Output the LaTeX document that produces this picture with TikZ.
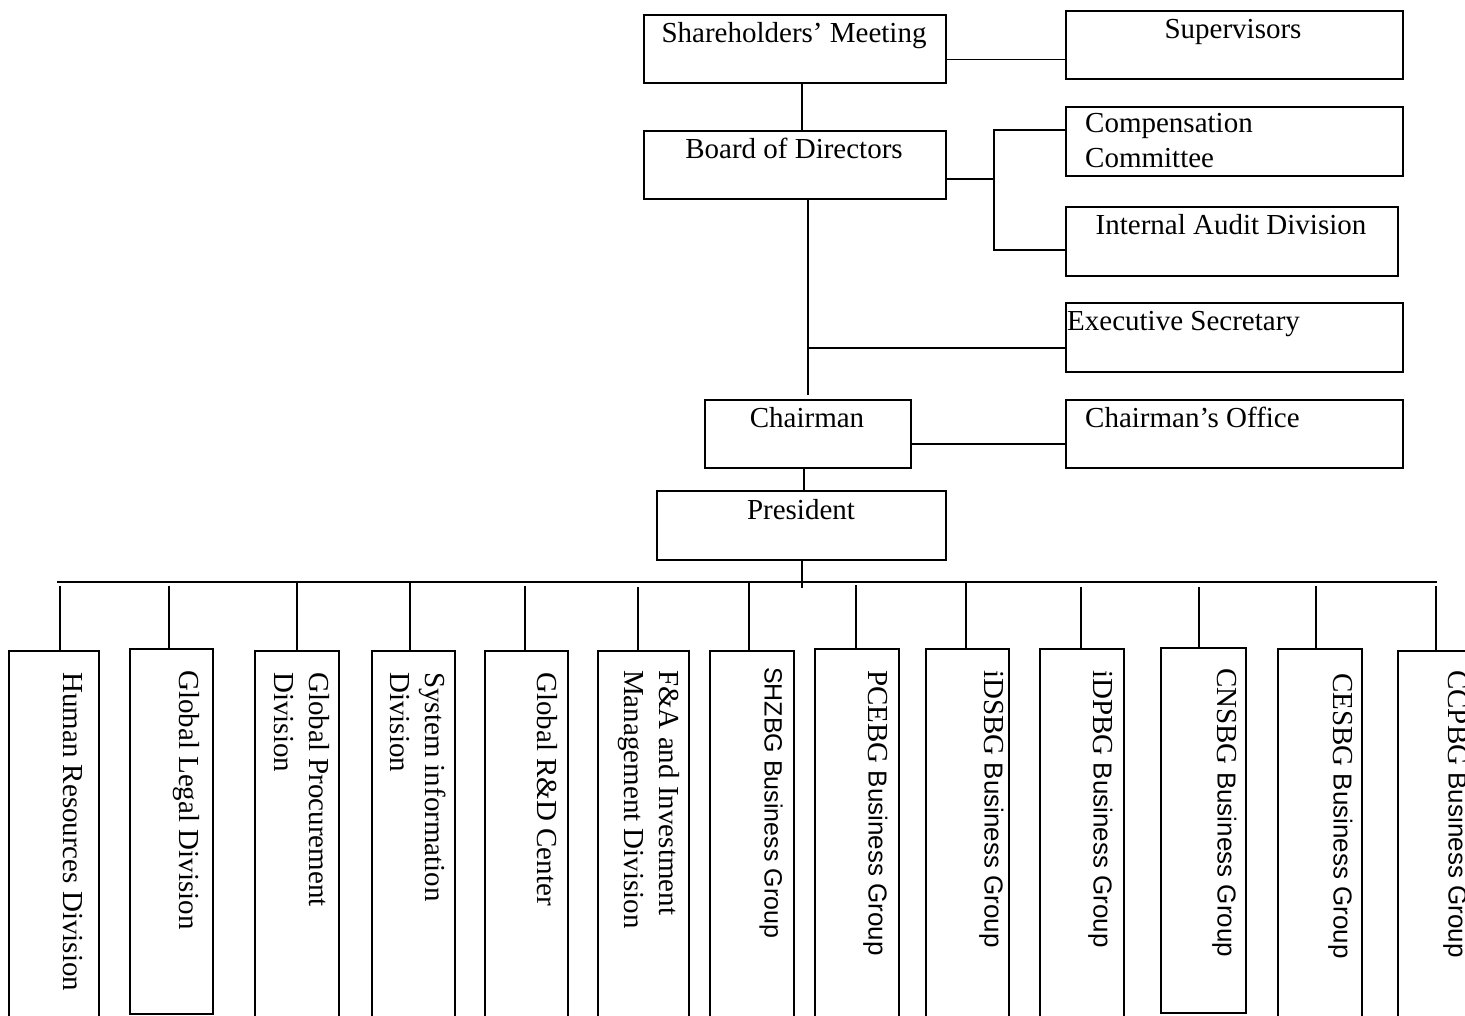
\documentclass[tikz,border=0pt]{standalone}
\usepackage{fontspec}
\setmainfont{Liberation Serif}
\newfontfamily\sansf{Liberation Sans}
\newcommand\bizgrp[1]{#1 {\sansf\fontsize{26}{35}\selectfont Business Group}}
\begin{document}
\begin{tikzpicture}[x=1pt,y=-1pt,
  box/.style={draw, line width=1.6pt, rectangle, inner sep=0pt, anchor=north west},
  con/.style={line width=1.5pt},
  txt/.style={inner sep=0pt, font=\fontsize{29}{35}\selectfont},
  vtxt/.style={txt, rotate=-90, anchor=north west, align=left}]
\clip (0,0) rectangle (1465,1016);
\fill[white] (0,0) rectangle (1465,1016);
% top boxes
\node[box, minimum width=302pt, minimum height=68pt] (sh) at (643,14) {};
\node[box, minimum width=337pt, minimum height=68pt] (sup) at (1065,10) {};
\node[box, minimum width=302pt, minimum height=68pt] (bd) at (643,130) {};
\node[box, minimum width=337pt, minimum height=69pt] (comp) at (1065,106) {};
\node[box, minimum width=332pt, minimum height=69pt] (ia) at (1065,206) {};
\node[box, minimum width=337pt, minimum height=69pt] (es) at (1065,302) {};
\node[box, minimum width=206pt, minimum height=68pt] (ch) at (704,399) {};
\node[box, minimum width=337pt, minimum height=68pt] (co) at (1065,399) {};
\node[box, minimum width=289pt, minimum height=69pt] (pr) at (656,490) {};
% top texts
\node[txt, anchor=base] (shT) at (794,43) {Shareholders’ Meeting};
\node[txt, anchor=base] (supT) at (1233,38.5) {Supervisors};
\node[txt, anchor=base] (bdT) at (794,159) {Board of Directors};
\node[txt, anchor=north west, align=left] (compT) at (1085,113.5) {Compensation\\Committee};
\node[txt, anchor=base] (iaT) at (1231,235) {Internal Audit Division};
\node[txt, anchor=base west] (esT) at (1067,331) {Executive Secretary};
\node[txt, anchor=base] (chT) at (807,427) {Chairman};
\node[txt, anchor=base west] (coT) at (1085,427) {Chairman’s Office};
\node[txt, anchor=base] (prT) at (801,519) {President};
% top connectors
\draw[con] ([yshift=-10.7pt]sh.east) -- ([yshift=-10.7pt]sh.east -| sup.west);
\draw[con] ([xshift=7pt]sh.south) -- ([xshift=7pt]bd.north);
\coordinate (j1) at (994,130);
\coordinate (j2) at (994,250);
\draw[con] ([yshift=-14pt]bd.east) -- ([yshift=-14pt]bd.east -| j1);
\draw[con] (comp.west |- j1) -- (j1) -- (j2) -- (ia.west |- j2);
\draw[con] (bd.south -| ch.north) -- ([yshift=4pt]ch.north);
\draw[con] ([yshift=-10.5pt]es.west) -- ([yshift=-10.5pt]es.west -| ch.north);
\draw[con] ([yshift=-10pt]ch.east) -- ([yshift=-10pt]co.west);
\draw[con] ([xshift=-4pt]ch.south) -- ([xshift=-4pt]ch.south |- pr.north);
\draw[con] ([xshift=0.5pt]pr.south) -- ([xshift=0.5pt,yshift=-27pt]pr.south);
\coordinate (busL) at (57,582);
\coordinate (busR) at (1437,582);
\draw[con] (busL) -- (busR);
% bottom boxes
\node[box, minimum width=90pt, minimum height=375pt] (hr) at (8,650) {};
\node[box, minimum width=83pt, minimum height=365pt] (gl) at (129,648) {};
\node[box, minimum width=84pt, minimum height=375pt] (gp) at (254,650) {};
\node[box, minimum width=83pt, minimum height=375pt] (si) at (371,650) {};
\node[box, minimum width=83pt, minimum height=375pt] (rd) at (484,650) {};
\node[box, minimum width=91pt, minimum height=375pt] (fa) at (597,650) {};
\node[box, minimum width=84pt, minimum height=375pt] (sz) at (709,650) {};
\node[box, minimum width=84pt, minimum height=375pt] (pc) at (814,648) {};
\node[box, minimum width=83pt, minimum height=375pt] (ids) at (925,648) {};
\node[box, minimum width=84pt, minimum height=375pt] (idp) at (1039,648) {};
\node[box, minimum width=85pt, minimum height=365pt] (cn) at (1160,647) {};
\node[box, minimum width=84pt, minimum height=375pt] (ce) at (1277,648) {};
\node[box, minimum width=84pt, minimum height=375pt] (cc) at (1397,650) {};
% drops
\coordinate (dhr) at (60,586);
\coordinate (dgl) at (169,586);
\coordinate (dgp) at (297,582);
\coordinate (dsi) at (410,582);
\coordinate (drd) at (525,586);
\coordinate (dfa) at (638,587);
\coordinate (dsz) at (749,582);
\coordinate (dpc) at (856,585);
\coordinate (dids) at (966,582);
\coordinate (didp) at (1081,587);
\coordinate (dcn) at (1199,587);
\coordinate (dce) at (1316,586);
\coordinate (dcc) at (1436,586);
\foreach \d/\b in {dhr/hr,dgl/gl,dgp/gp,dsi/si,drd/rd,dfa/fa,dsz/sz,dpc/pc,dids/ids,didp/idp,dcn/cn,dce/ce,dcc/cc}
  \draw[con] (\d) -- (\d |- \b.north);
% rotated texts
\node[vtxt] (hrT) at (83,672) {Human Resources Division};
\node[vtxt] (glT) at (200,670) {Global Legal Division};
\node[vtxt] (gpT) at (330,672) {Global Procurement\\Division};
\node[vtxt] (siT) at (446,672) {System information\\Division};
\node[vtxt] (rdT) at (558,672) {Global R\&D Center};
\node[vtxt] (faT) at (680,670) {F\&A and Investment\\Management Division};
\node[vtxt, font=\sansf\fontsize{25}{35}\selectfont] (szT) at (783,667) {SHZBG Business Group};
\node[vtxt] (pcT) at (888,670) {\bizgrp{PCEBG}};
\node[vtxt] (idsT) at (1004,670) {\bizgrp{iDSBG}};
\node[vtxt] (idpT) at (1113,670) {\bizgrp{iDPBG}};
\node[vtxt] (cnT) at (1237,668) {\bizgrp{CNSBG}};
\node[vtxt] (ceT) at (1353,673) {\bizgrp{CESBG}};
\node[vtxt] (ccT) at (1468,670) {\bizgrp{CCPBG}};
\end{tikzpicture}
\end{document}
